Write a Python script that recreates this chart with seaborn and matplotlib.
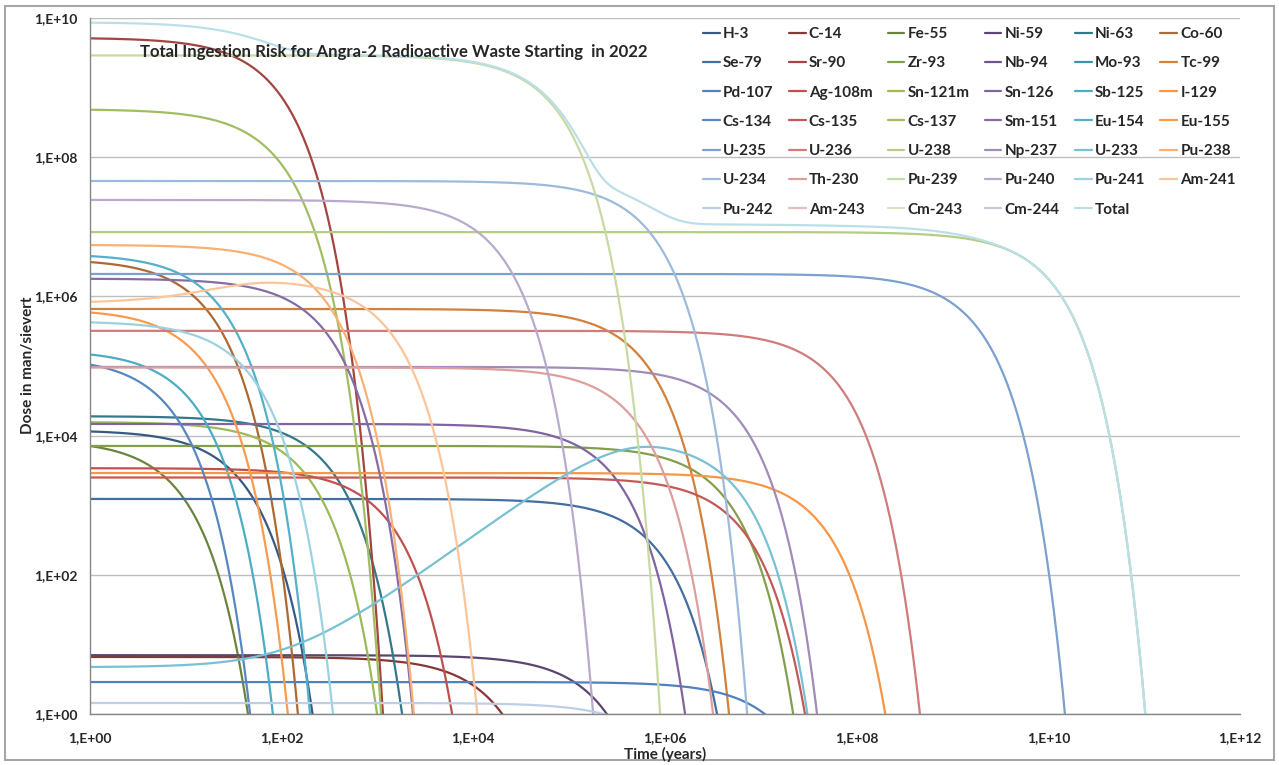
import numpy as np
import pandas as pd
import matplotlib
matplotlib.use("Agg")
import matplotlib.pyplot as plt
import seaborn as sns
from matplotlib.lines import Line2D
from matplotlib.patches import Rectangle
from matplotlib.ticker import FixedLocator, FuncFormatter, NullLocator

# ---------------- data ----------------
nuclides = ["H-3", "C-14", "Fe-55", "Ni-59", "Ni-63", "Co-60",
            "Se-79", "Sr-90", "Zr-93", "Nb-94", "Mo-93", "Tc-99",
            "Pd-107", "Ag-108m", "Sn-121m", "Sn-126", "Sb-125", "I-129",
            "Cs-134", "Cs-135", "Cs-137", "Sm-151", "Eu-154", "Eu-155",
            "U-235", "U-236", "U-238", "Np-237", "U-233", "Pu-238",
            "U-234", "Th-230", "Pu-239", "Pu-240", "Pu-241", "Am-241",
            "Pu-242", "Am-243", "Cm-243", "Cm-244"]

# dose at year 1 (man/sievert)
initial_dose = [1.2e4, 6.6, 8.7e3, 7.0, 1.9e4, 3.45e6,
                1.23e3, 5.2e9, 7.1e3, 0.5, 0.5, 6.6e5,
                2.88, 3.4e3, 1.57e4, 1.47e4, 1.7e5, 2.9e3,
                1.35e5, 2.5e3, 4.9e8, 1.8e6, 4.1e6, 6.6e5,
                2.1e6, 3.2e5, 8.4e6, 9.7e4, 4.7, 5.5e6,
                4.55e7, 9.5e4, 2.9e9, 2.43e7, 4.4e5, 8.0e5,
                1.44, 0.5, 0.5, 0.5]

# effective half-life of each curve (years)
half_life = [15.5, 7350, 3.4, 8.8e4, 127, 6.8,
             3.4e5, 35.3, 1.7e6, 2.03e4, 4.0e3, 2.41e5,
             7.2e6, 512, 71, 1.17e5, 4.66, 1.73e7,
             2.75, 2.56e6, 37.8, 113, 9.0, 6.0,
             7.1e8, 2.5e7, 4.47e9, 2.33e6, 1.59e5, 107,
             2.83e5, 1.92e5, 2.83e4, 7260, 18.3, 530,
             4.3e5, 7370, 29.1, 18.1]

# in-growth of daughters (dose level reached from the parent)
u233_parent, u233_ingrowth = "Np-237", 8400.0
am241_parent, am241_ingrowth = "Pu-241", 1.0e6

# ---------------- curves ----------------
t = np.logspace(0, 12, 3000)
hl = dict(zip(nuclides, half_life))
a0 = dict(zip(nuclides, initial_dose))
curves = {}
for n in nuclides:
    y = a0[n] * 2.0 ** (-t / hl[n])
    if n == "U-233":
        l1, l2 = np.log(2) / hl[u233_parent], np.log(2) / hl[n]
        y = y + u233_ingrowth * l2 / (l2 - l1) * (np.exp(-l1 * t) - np.exp(-l2 * t))
    if n == "Am-241":
        y = (a0[n] + am241_ingrowth) * 2.0 ** (-t / hl[n]) - am241_ingrowth * 2.0 ** (-t / hl[am241_parent])
    curves[n] = y
curves["Total"] = np.sum([curves[n] for n in nuclides], axis=0)
series = nuclides + ["Total"]

frames = []
for n in series:
    y = curves[n].copy()
    y[y < 1e-3] = np.nan
    frames.append(pd.DataFrame({"Time": t, "Dose": y, "Nuclide": n}))
df = pd.concat(frames, ignore_index=True).dropna()

# ---------------- colours (Excel-like shades per column / row) ----------------
base = [(79, 129, 189), (192, 80, 77), (155, 187, 89),
        (128, 100, 162), (75, 172, 198), (247, 150, 70)]
shade = [-0.30, -0.15, 0.0, 0.05, 0.25, 0.45, 0.62]


def tint(c, f):
    c = np.array(c) / 255.0
    if f < 0:
        return tuple(c * (1 + f))
    return tuple(c + (1 - c) * f)


palette = {}
for i, n in enumerate(series):
    r, col = divmod(i, 6)
    palette[n] = tint(base[col], shade[r])

# ---------------- plot ----------------
sns.set_style("white")
plt.rcParams["font.family"] = ["Lato", "DejaVu Sans"]

fig = plt.figure(figsize=(12.79, 7.65), dpi=100)
ax = fig.add_axes([90 / 1279, 1 - 714 / 765, 1150 / 1279, 696 / 765])

sns.lineplot(data=df, x="Time", y="Dose", hue="Nuclide", hue_order=series,
             palette=palette, estimator=None, sort=False, linewidth=1.6,
             legend=False, ax=ax)

ax.set_xscale("log")
ax.set_yscale("log")
ax.set_xlim(1, 1e12)
ax.set_ylim(1, 1e10)


def fmt(v, pos):
    return "1,E+%02d" % int(round(np.log10(v)))


ax.xaxis.set_major_locator(FixedLocator([10.0 ** k for k in range(0, 13, 2)]))
ax.yaxis.set_major_locator(FixedLocator([10.0 ** k for k in range(0, 11, 2)]))
ax.xaxis.set_minor_locator(NullLocator())
ax.yaxis.set_minor_locator(NullLocator())
ax.xaxis.set_major_formatter(FuncFormatter(fmt))
ax.yaxis.set_major_formatter(FuncFormatter(fmt))
ax.tick_params(axis="both", which="major", length=5, width=1, color="#868686",
               labelsize=10, pad=4, direction="out")
for lab in ax.get_xticklabels() + ax.get_yticklabels():
    lab.set_fontweight("bold")
ax.xaxis.set_tick_params(pad=8)
ax.yaxis.grid(True, color="#BEBEBE", linewidth=1)
ax.xaxis.grid(False)
for s in ["top", "right"]:
    ax.spines[s].set_visible(False)
for s in ["left", "bottom"]:
    ax.spines[s].set_color("#868686")
    ax.spines[s].set_linewidth(1)
ax.set_xlabel("")
ax.set_ylabel("")

fig.text(665 / 1279, 1 - 754 / 765, "Time (years)", ha="center", va="center",
         fontsize=11, fontweight="bold")
fig.text(28 / 1279, 1 - 365 / 765, "Dose in man/sievert", ha="center", va="center",
         rotation=90, fontsize=11, fontweight="bold")
ax.text((140 - 90) / 1150, (714 - 52) / 696,
        "Total Ingestion Risk for Angra-2 Radioactive Waste Starting  in 2022",
        transform=ax.transAxes, ha="left", va="center", fontsize=12.1, fontweight="bold")

# legend: 6 columns, filled row by row
handles = {n: Line2D([], [], color=palette[n], linewidth=1.6) for n in series}
order = []
for c in range(6):
    for r in range(7):
        idx = r * 6 + c
        if idx < len(series):
            order.append(series[idx])
leg = ax.legend([handles[n] for n in order], order, ncol=6, frameon=False,
                loc="upper left", bbox_to_anchor=(703 / 1279, 1 - 27 / 765),
                bbox_transform=fig.transFigure, borderaxespad=0, borderpad=0,
                handlelength=1.1, handletextpad=0.2, columnspacing=1.0,
                labelspacing=1.0, prop={"weight": "bold", "size": 11})

fig.add_artist(Rectangle((5 / 1279, 5 / 765), 1269 / 1279, 754 / 765,
                         transform=fig.transFigure, fill=False,
                         edgecolor="#A6A6A6", linewidth=1.5))

fig.savefig("out.png", dpi=100)
